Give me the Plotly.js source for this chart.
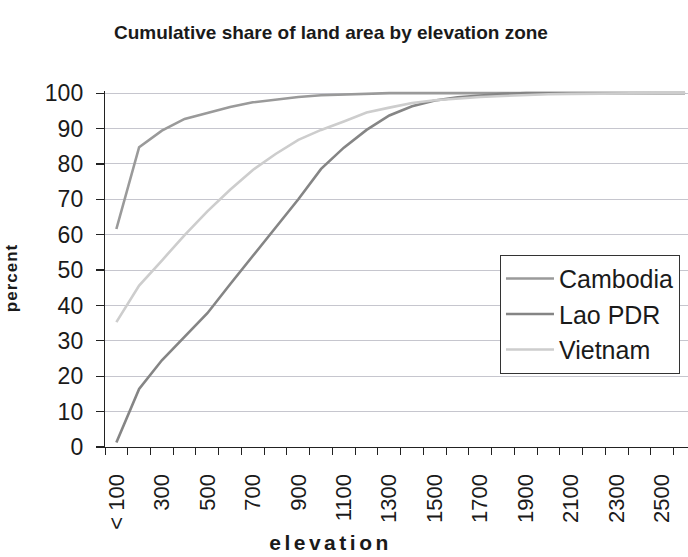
<!DOCTYPE html>
<html>
<head>
<meta charset="utf-8">
<script src="https://cdn.plot.ly/plotly-3.0.1.min.js"></script>
<style>
  html, body { margin: 0; padding: 0; background: #fff; }
  #chart { width: 688px; height: 557px; }
</style>
</head>
<body>
<div id="chart"></div>
<script>
// Elevation zones (upper bound, metres)
const categories = ["< 100","200","300","400","500","600","700","800","900","1000",
  "1100","1200","1300","1400","1500","1600","1700","1800","1900","2000",
  "2100","2200","2300","2400","2500","2600"];

// Cumulative share of land area (percent)
const cambodia = [61.6, 84.7, 89.4, 92.7, 94.4, 96.1, 97.4, 98.2, 98.9, 99.4,
  99.6, 99.9, 100, 100, 100, 100, 100, 100, 100, 100,
  100, 100, 100, 100, 100, 100];
const laoPDR = [1.3, 16.4, 24.5, 31.0, 37.8, 46.0, 54.1, 62.1, 70.0, 78.6,
  84.6, 89.6, 93.7, 96.3, 97.9, 98.8, 99.4, 99.8, 100, 100,
  100, 100, 100, 100, 100, 100];
const vietnam = [35.3, 45.6, 52.7, 59.9, 66.6, 72.7, 78.3, 82.8, 86.8, 89.6,
  92.0, 94.5, 95.9, 97.2, 98.0, 98.5, 98.9, 99.2, 99.5, 99.7,
  99.8, 99.9, 100, 100, 100, 100];

const seriesNames = ["Cambodia", "Lao PDR", "Vietnam"];
const xTitle = "elevation";
const yTitle = "percent";

// every other category is labelled
const idx = categories.map((c, i) => i);
const tickIdx = idx.filter(i => i % 2 === 0 && i < 25);
const tickText = tickIdx.map(i => categories[i]);

const colors = ["#9a9a9a", "#858585", "#cdcdcd"];
const data = [cambodia, laoPDR, vietnam].map((vals, k) => ({
  type: "scatter",
  mode: "lines",
  name: seriesNames[k],
  x: idx,
  y: vals,
  line: { color: colors[k], width: 2.6 },
  hoverinfo: "skip"
}));

const layout = {
  width: 688,
  height: 557,
  paper_bgcolor: "#ffffff",
  plot_bgcolor: "#ffffff",
  margin: { l: 105, r: 0, t: 91, b: 110 },
  font: { family: "Liberation Sans, Arial, sans-serif", color: "#1a1a1a" },
  title: {
    text: "<b>Cumulative share of land area by elevation zone</b>",
    font: { size: 19, color: "#1a1a1a" },
    x: 0.481, xanchor: "center",
    y: 0.9425, yanchor: "middle", xref: "container", yref: "container"
  },
  xaxis: {
    range: [-0.5, 25.13],
    tickmode: "array",
    tickvals: tickIdx,
    ticktext: tickText,
    tickangle: -90,
    ticks: "",
    ticklabelstandoff: 17,
    tickfont: { size: 22, color: "#1a1a1a" },
    showgrid: false,
    zeroline: false,
    showline: true,
    linecolor: "#222",
    linewidth: 1.2,
    minor: { tickmode: "linear", tick0: -0.5, dtick: 1, ticks: "outside", ticklen: 7, tickcolor: "#222", tickwidth: 1, showgrid: false },
    fixedrange: true
  },
  yaxis: {
    range: [0, 100.6],
    tickmode: "linear",
    tick0: 0,
    dtick: 10,
    ticks: "outside",
    ticklen: 8,
    tickcolor: "#222",
    tickwidth: 1.2,
    ticklabelstandoff: 8,
    tickfont: { size: 23, color: "#1a1a1a" },
    showgrid: true,
    gridcolor: "#c6c6ce",
    gridwidth: 1,
    zeroline: false,
    showline: true,
    linecolor: "#222",
    linewidth: 1.2,
    fixedrange: true
  },
  annotations: [
    { text: "<b>" + xTitle + "</b>", xref: "paper", yref: "paper",
      x: (330 - 105) / 583, y: -(543 - 447.3) / 356, xanchor: "center", yanchor: "middle",
      showarrow: false, font: { size: 21, color: "#1a1a1a" } },
    { text: "<b>" + yTitle + "</b>", xref: "paper", yref: "paper",
      x: (12 - 105) / 583, y: (447.3 - 278) / 356, xanchor: "center", yanchor: "middle",
      textangle: -90, showarrow: false, font: { size: 17, color: "#1a1a1a" } }
  ],
  showlegend: true,
  legend: {
    x: 0.6775, xanchor: "left",
    y: (447.3 - 255) / 356, yanchor: "top",
    bgcolor: "#ffffff",
    bordercolor: "#333",
    borderwidth: 1,
    itemwidth: 48,
    font: { size: 25, color: "#1a1a1a" },
    tracegroupgap: 0
  }
};

Plotly.newPlot("chart", data, layout, { staticPlot: true, displayModeBar: false }).then(() => {
  const ann = document.querySelectorAll("#chart .annotation-text");
  if (ann[0]) ann[0].style.letterSpacing = "3.5px";
  if (ann[1]) ann[1].style.letterSpacing = "1px";
});
</script>
</body>
</html>
